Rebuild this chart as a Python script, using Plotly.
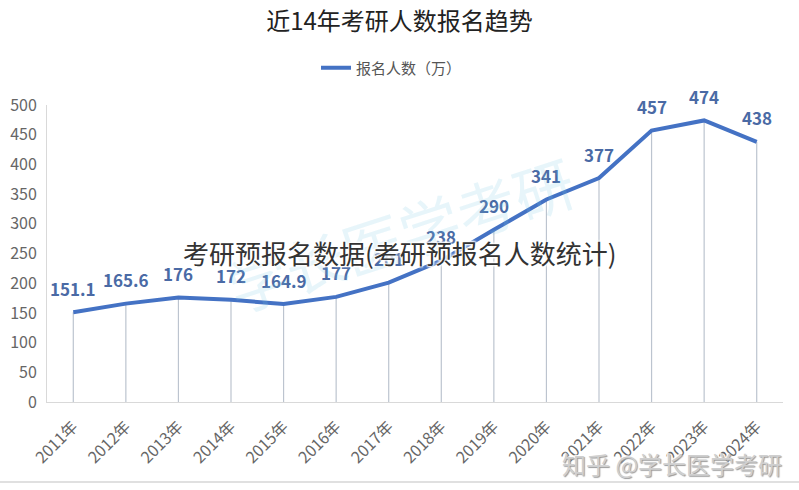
import plotly.graph_objects as go

years = ["2011年", "2012年", "2013年", "2014年", "2015年", "2016年", "2017年",
         "2018年", "2019年", "2020年", "2021年", "2022年", "2023年", "2024年"]
applicants = [151.1, 165.6, 176, 172, 164.9, 177, 201, 238, 290, 341, 377, 457, 474, 438]
labels = ["151.1", "165.6", "176", "172", "164.9", "177", "201", "238", "290", "341", "377", "457", "474", "438"]

FONT = "Noto Sans CJK SC, Open Sans, sans-serif"

L, R, T, B = 47, 16, 105, 88
W, H = 799, 490
PW, PH = W - L - R, H - T - B


def px(X):
    return (X - L) / PW


def py(Y):
    return (H - B - Y) / PH


fig = go.Figure()

# vertical drop lines from each point to the axis
fig.add_trace(go.Scatter(
    x=years, y=applicants, mode="markers",
    marker=dict(size=0.1, color="rgba(0,0,0,0)"),
    error_y=dict(type="data", symmetric=False, array=[0] * len(applicants),
                 arrayminus=applicants, width=0, thickness=1.2, color="#bcc4cf"),
    showlegend=False, hoverinfo="skip",
))

fig.add_trace(go.Scatter(
    x=years, y=applicants, mode="lines", name="报名人数（万）",
    line=dict(color="#4472c4", width=4),
))

for yr, v, lab in zip(years, applicants, labels):
    fig.add_annotation(x=yr, y=v, text=lab, showarrow=False, yshift=24,
                       font=dict(family=FONT, size=17, color="#4a6aa5", weight="bold"))

fig.update_layout(
    width=W, height=H,
    margin=dict(l=L, r=R, t=T, b=B, autoexpand=False),
    paper_bgcolor="white", plot_bgcolor="white",
    font=dict(family=FONT, color="#666"),
    title=dict(text="近14年考研人数报名趋势", x=0.5, xref="container", xanchor="center",
               y=1 - 22 / H, yref="container", yanchor="middle",
               font=dict(family=FONT, size=24, color="#222")),
    legend=dict(orientation="h", x=0.49, xref="container", xanchor="center",
                y=1 - 68 / H, yref="container", yanchor="middle",
                font=dict(family=FONT, size=15, color="#555")),
    xaxis=dict(range=[-0.5, len(years) - 0.5], showgrid=False, showline=True,
               linecolor="#d9d9d9", linewidth=1,
               tickangle=-45, tickfont=dict(family=FONT, size=16, color="#666"),
               ticks="", ticklabelstandoff=8, automargin=False),
    yaxis=dict(range=[0, 500], dtick=50, showgrid=False, showline=True,
               linecolor="#d9d9d9", linewidth=1, zeroline=False,
               tickfont=dict(family=FONT, size=16, color="#666"), ticks="",
               ticklabelstandoff=6, automargin=False),
)

# faint diagonal watermark
fig.add_annotation(text="学长医学考研", xref="paper", yref="paper", x=px(400), y=py(232),
                   showarrow=False, textangle=-18,
                   font=dict(family=FONT, size=60, color="rgba(120,200,230,0.18)"))

# overlay caption
fig.add_annotation(text="考研预报名数据(考研预报名人数统计)", xref="paper", yref="paper",
                   x=px(400), y=py(252), xanchor="center", yanchor="middle", showarrow=False,
                   font=dict(family=FONT, size=26, color="#333",
                             shadow="1px 1px 2px white, -1px -1px 2px white, 1px -1px 2px white, -1px 1px 2px white"))

# zhihu watermark
fig.add_annotation(text="知乎 @学长医学考研", xref="paper", yref="paper",
                   x=px(784), y=py(463), xanchor="right", yanchor="middle", showarrow=False,
                   font=dict(family=FONT, size=24, color="#cfcfcf",
                             shadow="1px 1px 1px #999, -1px -1px 1px white"))

# bottom border line
fig.add_shape(type="line", xref="paper", yref="paper", x0=px(0), x1=px(799),
              y0=py(482), y1=py(482), line=dict(color="#e0e0e0", width=2))

fig.write_html("out.html")
